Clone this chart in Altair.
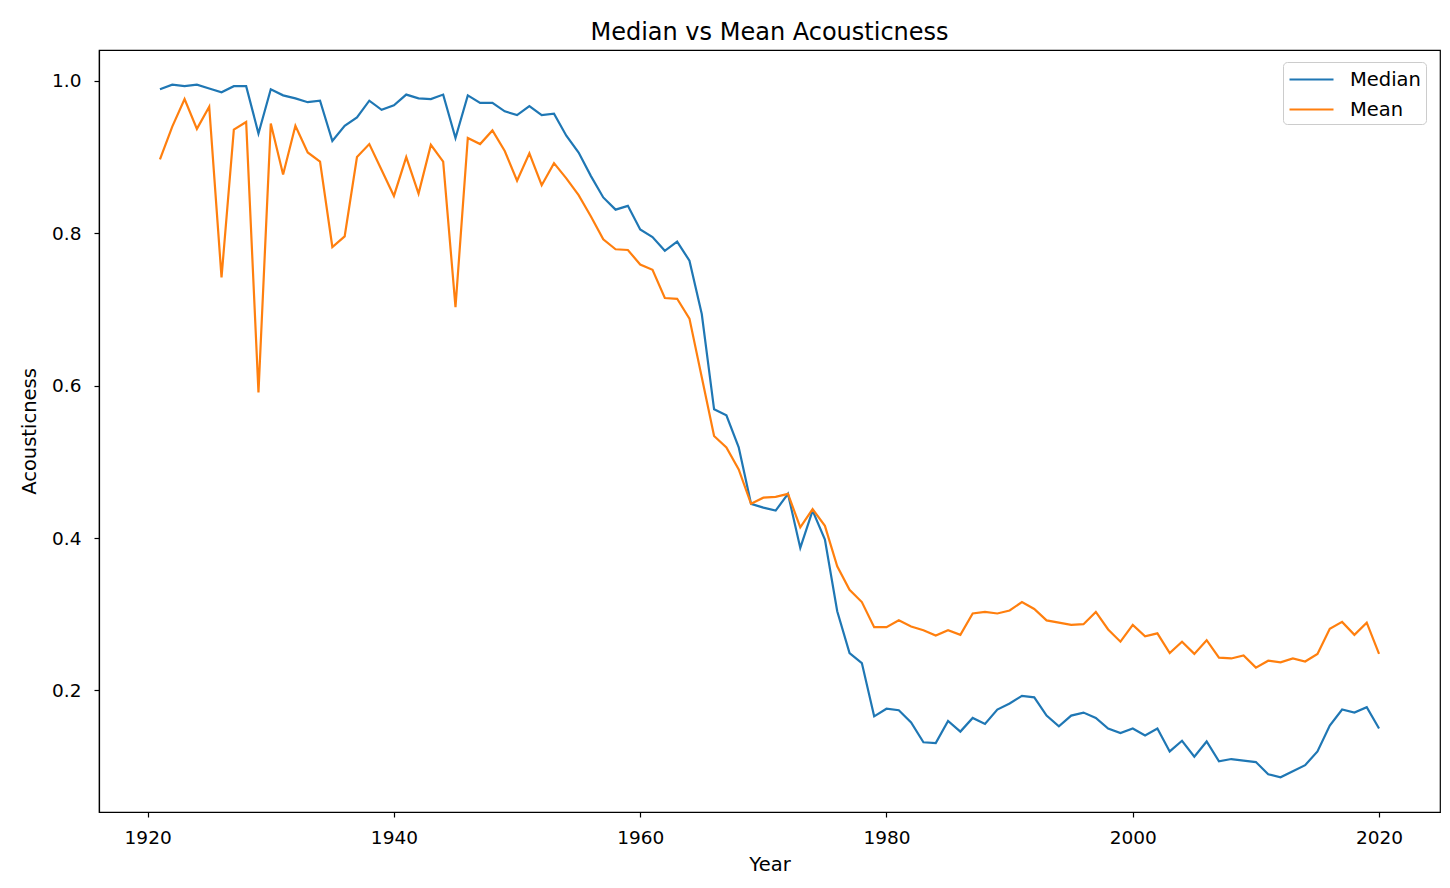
import altair as alt
import pandas as pd

years = list(range(1921, 2021))

median = [
    0.989, 0.995, 0.993, 0.995, 0.990, 0.985, 0.993, 0.993, 0.931, 0.989,
    0.981, 0.977, 0.972, 0.974, 0.921, 0.941, 0.952, 0.974, 0.962, 0.968,
    0.982, 0.977, 0.976, 0.982, 0.925, 0.981, 0.971, 0.971, 0.960, 0.955,
    0.967, 0.955, 0.957, 0.928, 0.906, 0.875, 0.847, 0.831, 0.836, 0.805,
    0.795, 0.777, 0.789, 0.764, 0.694, 0.569, 0.561, 0.519, 0.445, 0.440,
    0.436, 0.458, 0.387, 0.436, 0.398, 0.304, 0.249, 0.236, 0.166, 0.176,
    0.174, 0.158, 0.132, 0.131, 0.160, 0.146, 0.164, 0.156, 0.175, 0.183,
    0.193, 0.191, 0.167, 0.153, 0.167, 0.171, 0.164, 0.150, 0.144, 0.150,
    0.141, 0.150, 0.120, 0.134, 0.113, 0.133, 0.107, 0.110, 0.108, 0.106,
    0.090, 0.086, 0.094, 0.102, 0.120, 0.154, 0.175, 0.171, 0.178, 0.150,
]

mean = [
    0.897, 0.940, 0.976, 0.937, 0.966, 0.742, 0.936, 0.946, 0.591, 0.944,
    0.877, 0.941, 0.906, 0.894, 0.782, 0.796, 0.900, 0.917, 0.883, 0.849,
    0.900, 0.852, 0.916, 0.894, 0.703, 0.925, 0.917, 0.935, 0.908, 0.869,
    0.905, 0.863, 0.892, 0.872, 0.850, 0.822, 0.792, 0.779, 0.778, 0.759,
    0.752, 0.715, 0.714, 0.688, 0.611, 0.534, 0.519, 0.490, 0.445, 0.453,
    0.454, 0.458, 0.414, 0.438, 0.416, 0.363, 0.332, 0.316, 0.283, 0.283,
    0.292, 0.284, 0.279, 0.272, 0.279, 0.273, 0.301, 0.303, 0.301, 0.305,
    0.316, 0.307, 0.292, 0.289, 0.286, 0.287, 0.303, 0.280, 0.264, 0.286,
    0.271, 0.275, 0.249, 0.264, 0.248, 0.266, 0.243, 0.242, 0.246, 0.230,
    0.239, 0.237, 0.242, 0.238, 0.248, 0.281, 0.290, 0.273, 0.289, 0.248,
]

series_names = ["Median", "Mean"]
series_colors = ["#1f77b4", "#ff7f0e"]
x_ticks = [1920, 1940, 1960, 1980, 2000, 2020]
y_ticks = [0.2, 0.4, 0.6, 0.8, 1.0]

rows = []
for name, vals in zip(series_names, [median, mean]):
    for yr, v in zip(years, vals):
        rows.append({"Year": yr, "value": v, "series": name})
df = pd.DataFrame(rows)

FONT = "DejaVu Sans"
TICK_FS = 18.5
LABEL_FS = 19.5

chart = (
    alt.Chart(df)
    .mark_line(strokeWidth=2.2)
    .encode(
        x=alt.X(
            "Year:Q",
            scale=alt.Scale(domain=[1916.05, 2024.95], nice=False, zero=False),
            axis=alt.Axis(
                values=x_ticks, format="d", title="Year", grid=False,
                tickSize=5, tickColor="black", tickWidth=1.2,
                domainColor="black", domainWidth=1.2,
                labelFont=FONT, labelFontSize=TICK_FS, labelColor="black", labelPadding=11,
                titleFont=FONT, titleFontSize=LABEL_FS, titleFontWeight="normal",
                titleColor="black", titlePadding=9,
            ),
        ),
        y=alt.Y(
            "value:Q",
            scale=alt.Scale(domain=[0.0405, 1.0405], nice=False, zero=False),
            axis=alt.Axis(
                values=y_ticks, format=".1f", title="Acousticness", grid=False,
                tickSize=5, tickColor="black", tickWidth=1.2,
                domainColor="black", domainWidth=1.2,
                labelFont=FONT, labelFontSize=TICK_FS, labelColor="black", labelPadding=13,
                titleFont=FONT, titleFontSize=LABEL_FS, titleFontWeight="normal",
                titleColor="black", titlePadding=12,
            ),
        ),
        color=alt.Color(
            "series:N",
            scale=alt.Scale(domain=series_names, range=series_colors),
            sort=series_names,
            legend=alt.Legend(
                title=None, orient="none", legendX=1184, legendY=12,
                symbolType="M-1,0H3", symbolStrokeWidth=2.2, symbolSize=484,
                labelFont=FONT, labelFontSize=LABEL_FS, labelColor="black", labelOffset=37,
                fillColor="white", strokeColor="#cccccc", cornerRadius=4,
                padding=5, rowPadding=8,
            ),
        ),
    )
    .properties(
        width=1341,
        height=762,
        background="white",
        title=alt.TitleParams(
            "Median vs Mean Acousticness", font=FONT, fontSize=24,
            fontWeight="normal", color="black", offset=5, anchor="middle",
        ),
        autosize=alt.AutoSizeParams(type="none"),
        padding={"left": 91, "top": 42, "right": 2, "bottom": 68},
    )
    .configure_view(stroke="black", strokeWidth=1.2)
)

chart.save("out.html", embed_options={"renderer": "svg", "actions": False})
